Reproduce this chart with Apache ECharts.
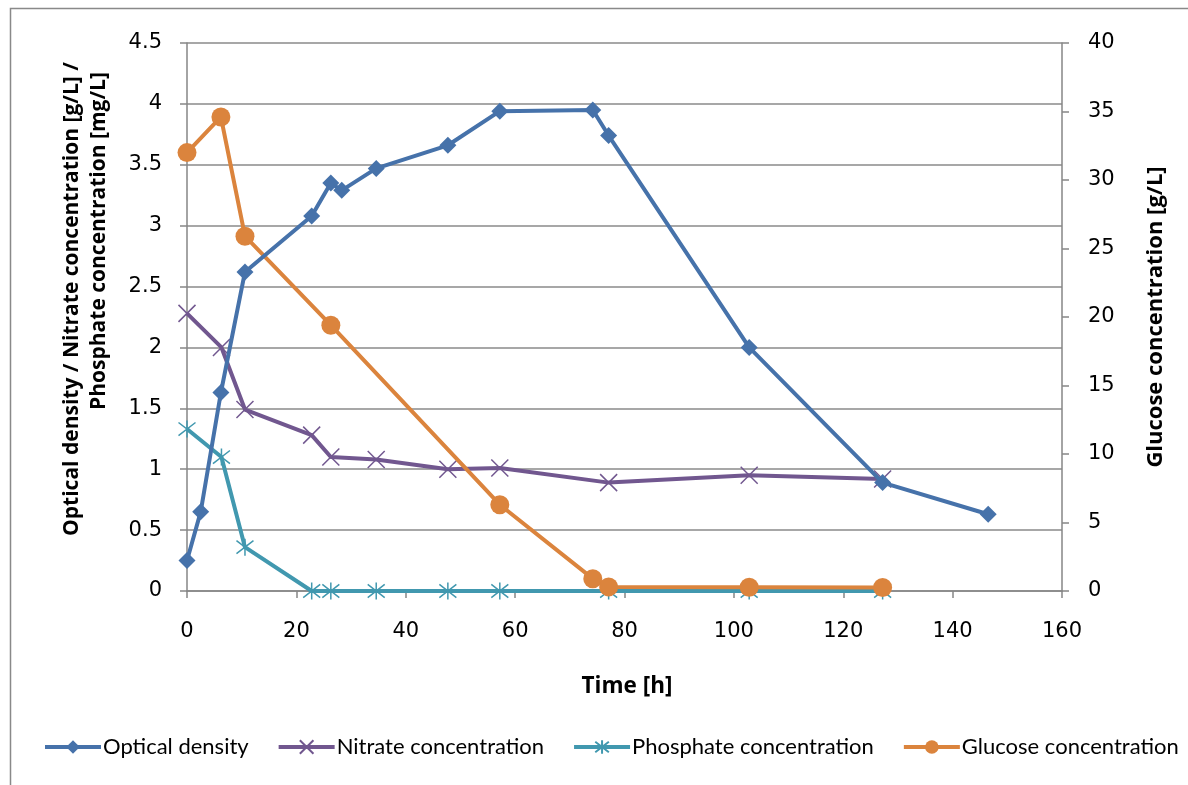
<!DOCTYPE html>
<html><head><meta charset="utf-8">
<script src="https://cdn.jsdelivr.net/npm/echarts@6/dist/echarts.min.js"></script>
<style>html,body{margin:0;padding:0;background:#fff}#c{width:1188px;height:785px}</style>
</head><body><div id="c"></div>
<script>
// Data
var odTime = [0, 2.5, 6.2, 10.6, 22.8, 26.3, 28.3, 34.6, 47.7, 57.2, 74.2, 77.1, 102.8, 127.2, 146.5];
var odValues = [0.25, 0.65, 1.63, 2.62, 3.08, 3.35, 3.29, 3.47, 3.66, 3.94, 3.95, 3.74, 2.00, 0.89, 0.63];
var nitrateTime = [0, 6.3, 10.6, 22.8, 26.3, 34.6, 47.7, 57.2, 77.1, 102.8, 127.2];
var nitrateValues = [2.28, 2.00, 1.49, 1.28, 1.10, 1.08, 1.00, 1.01, 0.89, 0.95, 0.92];
var phosTime = [0, 6.3, 10.6, 22.8, 26.3, 34.6, 47.7, 57.2, 77.1, 102.8, 127.2];
var phosValues = [1.33, 1.10, 0.36, 0, 0, 0, 0, 0, 0, 0, 0];
var glucoseTime = [0, 6.2, 10.6, 26.3, 57.2, 74.2, 77.1, 102.8, 127.2];
var glucoseValues = [32.0, 34.6, 25.9, 19.4, 6.3, 0.9, 0.3, 0.27, 0.25];
var seriesNames = ['Optical density', 'Nitrate concentration', 'Phosphate concentration', 'Glucose concentration'];
var leftTitle = ['Optical density / Nitrate concentration [g/L] /', 'Phosphate concentration [mg/L]'];
var rightTitle = 'Glucose concentration [g/L]';
var xTitle = 'Time [h]';

function pairs(xs, ys){ return xs.map(function(x,i){ return [x, ys[i]]; }); }

var colors = ['#4672AA', '#71578F', '#4198AF', '#DB843D'];
var xPath = 'path://M0,0 L10,10 M10,0 L0,10';
var starPath = 'path://M0,0 L10,10 M10,0 L0,10 M5,-1.5 L5,11.5';

var chart = echarts.init(document.getElementById('c'));
var tickFont = {fontFamily: 'DejaVu Sans', fontSize: 21, color: '#000'};
var titleFam = 'Open Sans';
function vtext(str, x, y, size){
  return {type: 'text', x: x, y: y, rotation: Math.PI/2, silent: true,
    style: {text: str, fontFamily: titleFam, fontWeight: 'bold', fontSize: size, fill: '#000', align: 'center', verticalAlign: 'middle'}};
}
chart.setOption({
  animation: false,
  color: colors,
  graphic: [
    {type: 'rect', shape: {x: 10.5, y: 8.5, width: 1300, height: 900}, style: {fill: 'none', stroke: '#898989', lineWidth: 1.5}, silent: true},
    vtext(leftTitle[0], 72, 299, 21),
    vtext(leftTitle[1], 99, 241, 21),
    vtext(rightTitle, 1156, 317, 22),
    {type: 'text', x: 627, y: 687, silent: true,
     style: {text: xTitle, fontFamily: titleFam, fontWeight: 'bold', fontSize: 22.5, fill: '#000', align: 'center', verticalAlign: 'middle'}}
  ],
  grid: {left: 187, right: 126, top: 43, bottom: 194, containLabel: false},
  legend: {
    top: 731, left: 38, width: 1150,
    itemWidth: 56, itemHeight: 17, itemGap: 28,
    lineStyle: {width: 4},
    textStyle: {fontFamily: 'Lato', fontSize: 22, color: '#000', padding: [0,0,0,-3]},
    data: seriesNames
  },
  xAxis: {
    type: 'value', min: 0, max: 160, interval: 20,
    axisLine: {show: true, lineStyle: {color: '#868686', width: 1.5}},
    axisTick: {show: true, length: 7, lineStyle: {color: '#868686', width: 1.5}},
    axisLabel: Object.assign({margin: 30}, tickFont),
    splitLine: {show: false}
  },
  yAxis: [{
    type: 'value', min: 0, max: 4.5, interval: 0.5,
    axisLine: {show: true, lineStyle: {color: '#868686', width: 1.5}},
    axisTick: {show: true, length: 7, lineStyle: {color: '#868686', width: 1.5}},
    axisLabel: Object.assign({margin: 25}, tickFont),
    splitLine: {show: true, lineStyle: {color: '#8a8a8a', width: 1.5}}
  }, {
    type: 'value', min: 0, max: 40, interval: 5,
    axisLine: {show: true, lineStyle: {color: '#868686', width: 1.5}},
    axisTick: {show: true, length: 7, lineStyle: {color: '#868686', width: 1.5}},
    axisLabel: Object.assign({margin: 26}, tickFont),
    splitLine: {show: false}
  }],
  series: [{
    name: seriesNames[0], type: 'line', data: pairs(odTime, odValues),
    symbol: 'diamond', symbolSize: 17, showAllSymbol: true,
    lineStyle: {width: 4, color: colors[0]}, itemStyle: {color: colors[0]}, z: 5
  }, {
    name: seriesNames[1], type: 'line', data: pairs(nitrateTime, nitrateValues),
    symbol: xPath, symbolSize: 17, showAllSymbol: true,
    lineStyle: {width: 4, color: colors[1]}, itemStyle: {color: colors[1], borderColor: colors[1], borderWidth: 1.5}, z: 3
  }, {
    name: seriesNames[2], type: 'line', data: pairs(phosTime, phosValues),
    symbol: starPath, symbolSize: 17, showAllSymbol: true,
    lineStyle: {width: 4, color: colors[2]}, itemStyle: {color: colors[2], borderColor: colors[2], borderWidth: 1.5}, z: 2
  }, {
    name: seriesNames[3], type: 'line', yAxisIndex: 1, data: pairs(glucoseTime, glucoseValues),
    symbol: 'circle', symbolSize: 19, showAllSymbol: true,
    lineStyle: {width: 4, color: colors[3]}, itemStyle: {color: colors[3]}, z: 4
  }]
});
</script></body></html>
